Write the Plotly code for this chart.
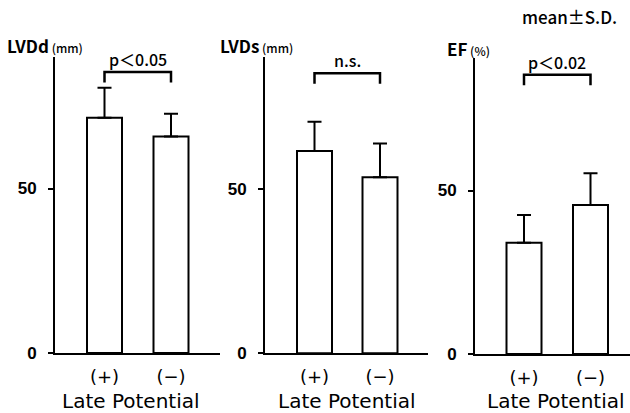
import plotly.graph_objects as go

# ---- data ----
groups = ["(+)", "(−)"]
panel_labels = ["LVDd", "LVDs", "EF"]
panel_units = ["(mm)", "(mm)", "(%)"]
lvdd_mean = [71.5, 65.8]
lvdd_sd = [9.1, 6.9]
lvds_mean = [61.7, 53.7]
lvds_sd = [8.9, 10.3]
ef_mean = [34.0, 45.6]
ef_sd = [8.5, 9.7]
p_texts = ["p＜0.05", "n.s.", "p＜0.02"]
y_ticks = [0, 50]
x_title = "Late Potential"
note = "mean±S.D."

means = [lvdd_mean, lvds_mean, ef_mean]
sds = [lvdd_sd, lvds_sd, ef_sd]

# ---- layout geometry (pixels of a 630x413 canvas) ----
W, H = 630, 413
axis_px = [55, 265, 475]
end_px = [220, 428, 630]
centers_px = [(104.5, 171), (314.5, 380), (524, 590.5)]
zero_px = [353, 353.3, 354]
top_px = [57, 57, 58]
scale_px = [3.29, 3.28, 3.27]
title_x_px = [131, 347, 556]
ylab_px = [(45, 45), (256, 45), (468, 48)]
bracket_lo, bracket_hi = 82.2, 85.4

def px(x):
    return x / W

def py(y):
    return 1 - y / H

fig = go.Figure()
layout = dict(
    width=W, height=H, margin=dict(l=0, r=0, t=0, b=0),
    paper_bgcolor="white", plot_bgcolor="white", showlegend=False,
    annotations=[],
)

lab_font = dict(family="Noto Sans CJK JP", size=16, color="black", weight=500)
head_font = dict(family="Noto Sans CJK JP", size=17, color="black", weight="bold")

for i in range(3):
    sfx = "" if i == 0 else str(i + 1)
    xa, ya = "x" + sfx, "y" + sfx
    c1, c2 = centers_px[i]
    s = c2 - c1
    xr = [1 - (c1 - axis_px[i]) / s, 2 + (end_px[i] - c2) / s]
    ytop = (zero_px[i] - top_px[i]) / scale_px[i]

    fig.add_trace(go.Bar(
        x=[1, 2], y=means[i], width=35 / s, xaxis=xa, yaxis=ya,
        marker=dict(color="white", line=dict(color="black", width=2)),
        error_y=dict(type="data", symmetric=False, array=sds[i], arrayminus=[0, 0],
                     color="black", thickness=2, width=7),
    ))
    fig.add_trace(go.Scatter(
        x=[1, 1, 2, 2], y=[bracket_lo, bracket_hi, bracket_hi, bracket_lo],
        mode="lines", line=dict(color="black", width=2.5), xaxis=xa, yaxis=ya,
        hoverinfo="skip",
    ))

    layout["xaxis" + sfx] = dict(
        domain=[px(axis_px[i]), px(end_px[i])], range=xr, anchor=ya, automargin=False,
        showline=True, linecolor="black", linewidth=2, showgrid=False, zeroline=False,
        tickvals=[1, 2], ticktext=groups, ticks="", ticklabelstandoff=6,
        tickfont=dict(family="DejaVu Sans", size=18, color="black"),
    )
    layout["yaxis" + sfx] = dict(
        domain=[py(zero_px[i]), py(top_px[i])], range=[0, ytop], anchor=xa, automargin=False,
        showline=True, linecolor="black", linewidth=2, showgrid=False, zeroline=False,
        tickvals=y_ticks, ticks="outside", ticklen=5, tickwidth=2, tickcolor="black",
        tickfont=dict(family="Liberation Sans", size=17, color="black", weight="bold"),
        ticklabelstandoff=8,
    )
    layout["annotations"].append(dict(
        xref=xa, yref=ya, x=1.5, y=bracket_hi, yanchor="bottom", yshift=-1,
        text=p_texts[i], showarrow=False, font=lab_font,
    ))
    layout["annotations"].append(dict(
        xref=xa, yref="paper", x=1 + (title_x_px[i] - c1) / s, y=py(401),
        yanchor="middle", text=x_title, showarrow=False,
        font=dict(family="DejaVu Sans", size=20, color="black"),
    ))
    layout["annotations"].append(dict(
        xref="paper", yref="paper", x=px(ylab_px[i][0]), y=py(ylab_px[i][1]),
        xanchor="center", yanchor="middle",
        text=panel_labels[i] + "<span style='font-size:12px;font-weight:500'> " + panel_units[i] + "</span>",
        showarrow=False, font=head_font,
    ))

layout["annotations"].append(dict(
    xref="paper", yref="paper", x=px(569), y=py(17), xanchor="center", yanchor="middle",
    text=note, showarrow=False, font=dict(family="Noto Sans CJK JP", size=17, color="black", weight=500),
))

fig.update_layout(**layout)
fig.write_html("out.html", config={"displayModeBar": False, "staticPlot": True},
               post_script="document.body.style.margin='0';document.body.style.padding='0';")
